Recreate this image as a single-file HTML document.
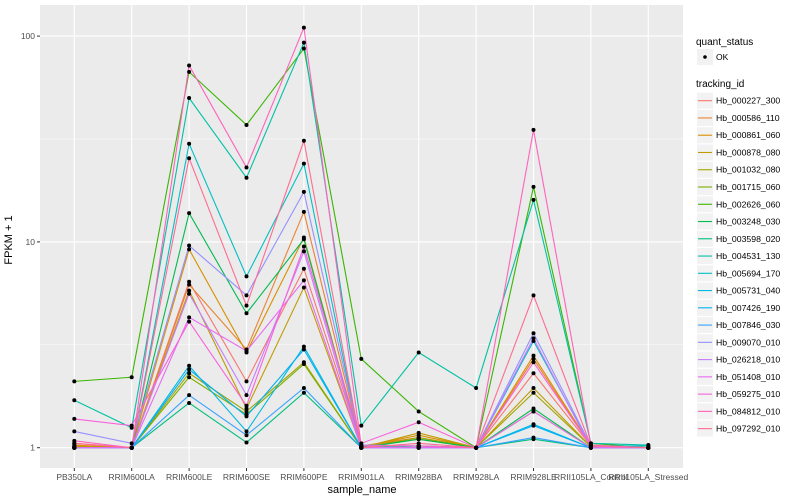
<!DOCTYPE html>
<html><head><meta charset="utf-8"><style>
body{margin:0;background:#fff;}
svg{display:block;font-family:"Liberation Sans",sans-serif;}
</style></head><body>
<svg id="chart" width="800" height="500" xmlns="http://www.w3.org/2000/svg">
<rect x="40" y="5" width="643" height="463" fill="#ebebeb"/>
<g id="grid"></g><g id="lines"></g><g id="pts"></g><g id="axes"></g><g id="legend"></g>
<text x="12" y="240" transform="rotate(-90 12 240)" text-anchor="middle" font-size="11" fill="#000">FPKM + 1</text>
<text x="362" y="493" text-anchor="middle" font-size="11" fill="#000">sample_name</text>
</svg>
<script>
const categories=["PB350LA","RRIM600LA","RRIM600LE","RRIM600SE","RRIM600PE","RRIM901LA","RRIM928BA","RRIM928LA","RRIM928LE","RRII105LA_Control","RRII105LA_Stressed"];
const seriesNames=["Hb_000227_300","Hb_000586_110","Hb_000861_060","Hb_000878_080","Hb_001032_080","Hb_001715_060","Hb_002626_060","Hb_003248_030","Hb_003598_020","Hb_004531_130","Hb_005694_170","Hb_005731_040","Hb_007426_190","Hb_007846_030","Hb_009070_010","Hb_026218_010","Hb_051408_010","Hb_059275_010","Hb_084812_010","Hb_097292_010"];
const seriesColors=["#F8766D","#EA8331","#D89000","#C09B00","#A3A500","#7CAE00","#39B600","#00BB4E","#00BF7D","#00C1A3","#00BFC4","#00BAE0","#00B0F6","#35A2FF","#9590FF","#C77CFF","#E76BF3","#FA62DB","#FF62BC","#FF6C91"];
const s0=[1.05,1,6.4,2.1,7.4,1.02,1.1,1,2.3,1.02,1];
const s1=[1.03,1,6.2,3.0,14,1.02,1.12,1,2.7,1.02,1];
const s2=[1.02,1,9.2,2.9,10.5,1.01,1.15,1,2.8,1.02,1];
const s3=[1.01,1,5.8,1.55,6.0,1.0,1.18,1,1.95,1.01,1];
const s4=[1.01,1,2.3,1.5,2.6,1,1.12,1,1.85,1.01,1];
const s5=[1.0,1,2.2,1.45,2.55,1,1.1,1,1.5,1,1];
const s6=[2.1,2.2,67,37,87,2.7,1.5,1,18.5,1.05,1];
const s7=[1,1,13.8,4.5,10.3,1,1.1,1,1.55,1,1];
const s8=[1,1,1.65,1.06,1.85,1,1.02,1,1.1,1,1];
const s9=[1.7,1.25,50,20.5,93,1.28,2.9,1.95,16,1.05,1.03];
const s10=[1,1,30,6.8,24,1,1.02,1,3.3,1.02,1.02];
const s11=[1,1,2.5,1.2,3.1,1,1,1,1.3,1,1];
const s12=[1,1,2.4,1.42,3.0,1,1,1,1.28,1,1];
const s13=[1,1,1.8,1.15,1.95,1,1,1,1.12,1,1];
const s14=[1.2,1.05,9.6,5.5,17.5,1.03,1.02,1,3.6,1.02,1];
const s15=[1,1,5.6,1.8,9,1,1,1,3.4,1,1];
const s16=[1,1,4.3,2.95,6.5,1,1,1,1.5,1,1];
const s17=[1.38,1.28,4.1,1.6,9.5,1.05,1.33,1,2.6,1.02,1];
const s18=[1.08,1,72,23,110,1.02,1.02,1,35,1.03,1];
const s19=[1.05,1,25.5,4.9,31,1,1.05,1,5.5,1.02,1];
const seriesValues=[s0,s1,s2,s3,s4,s5,s6,s7,s8,s9,s10,s11,s12,s13,s14,s15,s16,s17,s18,s19];
const yTicks=[1,10,100];
const yTickLabels=["1","10","100"];
const yMinor=[Math.sqrt(10),Math.sqrt(1000)];

const NS="http://www.w3.org/2000/svg";
function xS(i){return 74.3+57.4*i;}
function yS(v){return 447.7-205.8*Math.log10(v);}
function mk(tag,attrs,parent,text){const e=document.createElementNS(NS,tag);for(const k in attrs)e.setAttribute(k,attrs[k]);if(text!==undefined)e.textContent=text;parent.appendChild(e);return e;}
const grid=document.getElementById('grid'),lines=document.getElementById('lines'),pts=document.getElementById('pts'),axes=document.getElementById('axes'),legend=document.getElementById('legend');
yMinor.forEach(v=>{const l=mk('line',{x1:40,x2:683,y1:yS(v),y2:yS(v),stroke:'#fff','stroke-width':0.5},grid);

});
yTicks.forEach((v,i)=>{const l=mk('line',{x1:40,x2:683,y1:yS(v),y2:yS(v),stroke:'#fff','stroke-width':1.1},grid);


const t=mk('text',{x:35,y:yS(v)+3,'text-anchor':'end','font-size':8.5,fill:'#4d4d4d'},axes,yTickLabels[i]);


mk('line',{x1:37,x2:40,y1:yS(v),y2:yS(v),stroke:'#333','stroke-width':1},axes);});
categories.forEach((c,i)=>{const l=mk('line',{x1:xS(i),x2:xS(i),y1:5,y2:468,stroke:'#fff','stroke-width':1.1},grid);


mk('line',{x1:xS(i),x2:xS(i),y1:468,y2:471,stroke:'#333','stroke-width':1},axes);
const t=mk('text',{x:xS(i),y:480,'text-anchor':'middle','font-size':8.5,fill:'#4d4d4d'},axes,c);

});
seriesValues.forEach((vals,s)=>{
const p=mk('polyline',{points:vals.map((v,i)=>xS(i)+','+yS(v)).join(' '),fill:'none',stroke:seriesColors[s],'stroke-width':1.1},lines);


vals.forEach((v,i)=>{const c=mk('circle',{cx:xS(i),cy:yS(v),r:2,fill:'#000'},pts);

});});
let t=mk('text',{x:696,y:45,'font-size':10,fill:'#000'},legend,'quant_status');


mk('rect',{x:697,y:49,width:16,height:16,fill:'#f2f2f2'},legend);
mk('circle',{cx:705,cy:57,r:1.8,fill:'#000'},legend);
t=mk('text',{x:716,y:60,'font-size':8.5,fill:'#000'},legend,'OK');


t=mk('text',{x:696,y:87,'font-size':10,fill:'#000'},legend,'tracking_id');


seriesNames.forEach((n,s)=>{const y=100.7+17.26*s;
const g=mk('g',{},legend);


mk('rect',{x:697,y:y-8,width:16,height:16,fill:'#f2f2f2'},g);
mk('line',{x1:698,x2:712,y1:y,y2:y,stroke:seriesColors[s],'stroke-width':1.1},g);
mk('text',{x:716,y:y+3,'font-size':8.7,fill:'#000'},g,n);});
</script>
</body></html>
